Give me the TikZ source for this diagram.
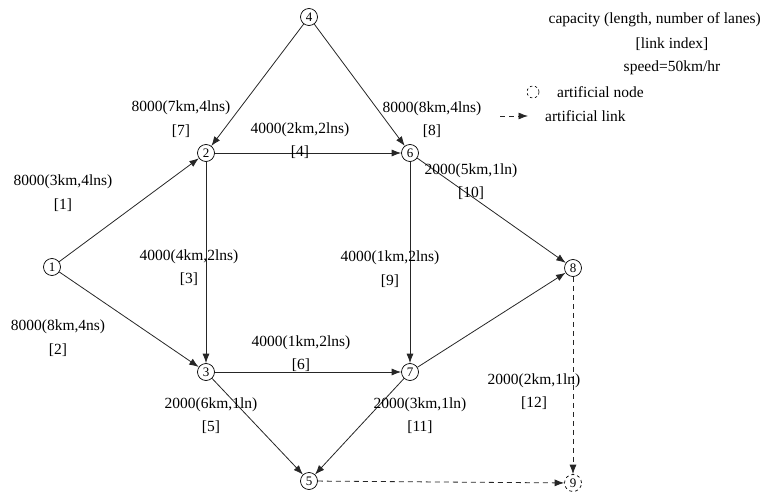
\documentclass[tikz,border=0pt]{standalone}
\usepackage{fontspec}
\setmainfont{Liberation Serif}
\usetikzlibrary{arrows.meta}
\begin{document}
\begin{tikzpicture}[x=1pt,y=-1pt,
  nd/.style={circle,draw=black,line width=0.7pt,inner sep=0pt,minimum size=17pt,font=\fontsize{13}{13}\selectfont},
  artnd/.style={nd,dash pattern=on 3pt off 3pt},
  lnk/.style={draw=black!85,line width=0.8pt,-{Latex[length=9.5pt,width=7pt]}},
  artlnk/.style={lnk,dash pattern=on 5pt off 4pt},
  lbl/.style={font=\fontsize{15.5}{23.5}\selectfont,align=center,inner sep=0pt},
  leg/.style={font=\fontsize{15.5}{18}\selectfont,inner sep=0pt}]
\useasboundingbox (0,0) rectangle (763,492);
% nodes
\node[nd] (n1) at (52,267) {1};
\node[nd] (n2) at (206,153) {2};
\node[nd] (n3) at (206,372) {3};
\node[nd] (n4) at (309,17) {4};
\node[nd] (n5) at (309,481) {5};
\node[nd] (n6) at (410,153) {6};
\node[nd] (n7) at (410,372) {7};
\node[nd] (n8) at (573,268) {8};
\node[artnd] (n9) at (573,483) {9};
% links
\draw[lnk] (n1) -- (n2);
\draw[lnk] (n1) -- (n3);
\draw[lnk] (n2) -- (n3);
\draw[lnk] (n4) -- (n2);
\draw[lnk] (n2) -- (n6);
\draw[lnk] (n3) -- (n5);
\draw[lnk] (n3) -- (n7);
\draw[lnk] (n4) -- (n6);
\draw[lnk] (n6) -- (n7);
\draw[lnk] (n6) -- (n8);
\draw[lnk] (n7) -- (n8);
\draw[lnk] (n7) -- (n5);
\draw[artlnk] (n8) -- (n9);
\draw[artlnk] (n5) -- (n9);
% labels
\node[lbl] (l7) at (181,119) {8000(7km,4lns)\\{[7]}};
\node[lbl] (l8) at (432,119.5) {8000(8km,4lns)\\{[8]}};
\node[lbl] (l4) at (300,140.5) {4000(2km,2lns)\\{[4]}};
\node[lbl] (l1) at (63,193) {8000(3km,4lns)\\{[1]}};
\node[lbl] (l10) at (471,181.5) {2000(5km,1ln)\\{[10]}};
\node[lbl] (l3) at (189,267.5) {4000(4km,2lns)\\{[3]}};
\node[lbl] (l9) at (390,269) {4000(1km,2lns)\\{[9]}};
\node[lbl] (l2) at (58,338) {8000(8km,4ns)\\{[2]}};
\node[lbl] (l6) at (301,353.5) {4000(1km,2lns)\\{[6]}};
\node[lbl] (l12) at (534,391.5) {2000(2km,1ln)\\{[12]}};
\node[lbl] (l5) at (211,415.5) {2000(6km,1ln)\\{[5]}};
\node[lbl] (l11) at (420,415.5) {2000(3km,1ln)\\{[11]}};
% legend
\node[leg,anchor=east] (g1) at (761,20) {capacity (length, number of lanes)};
\node[leg] (g2) at (672,44) {[link index]};
\node[leg] (g3) at (672,68) {speed=50km/hr};
\node[draw=black,dash pattern=on 2.5pt off 2.5pt,circle,line width=0.6pt,minimum size=12pt,inner sep=0pt] (gc) at (533,92) {};
\node[leg,anchor=west] (g4) at (557,92) {artificial node};
\coordinate (ga) at (500,116);
\coordinate (gb) at (528,116);
\draw[artlnk] (ga) -- (gb);
\node[leg,anchor=west] (g5) at (545,116) {artificial link};
\end{tikzpicture}
\end{document}
